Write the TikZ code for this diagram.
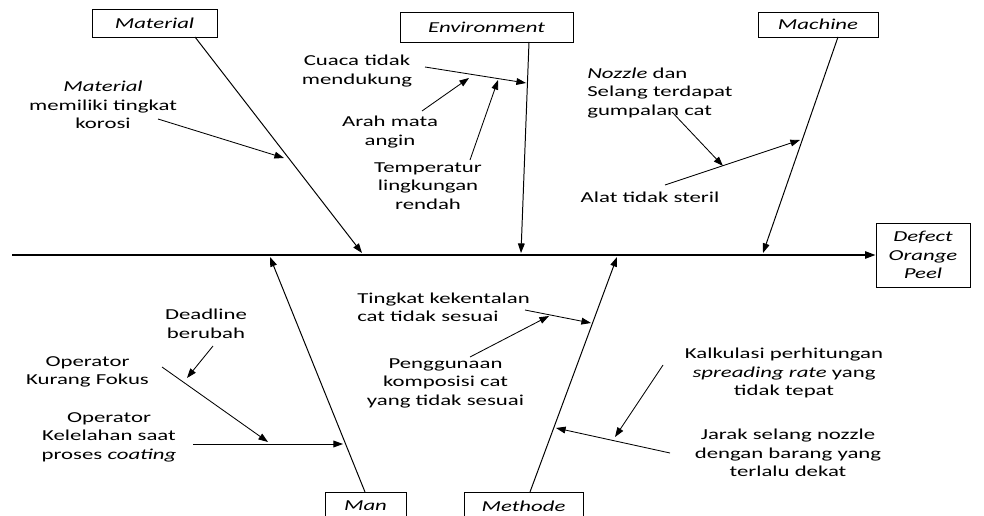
\documentclass[tikz,border=0pt]{standalone}
\usepackage{fontspec}
\setmainfont{Carlito}[FakeStretch=1.5]
\usetikzlibrary{arrows.meta}
\tikzset{
    txt/.style={align=center, inner sep=0pt, font=\fontsize{10.8}{13.2}\selectfont},
    catbox/.style={draw, line width=0.6pt, inner sep=0pt, align=center, font=\fontsize{10.8}{13.2}\selectfont\itshape},
    bone/.style={line width=0.7pt, -{Triangle[length=2.4mm,width=1.7mm]}},
}
\begin{document}
\begin{tikzpicture}[x=0.25mm,y=-0.25mm]
        \clip (0,0) rectangle (984,516);
        %% category boxes
        \node[catbox, minimum width=31.25mm, minimum height=7mm] (material) at (154.5,23) {Material};
        \node[catbox, minimum width=43.25mm, minimum height=7.5mm] (environment) at (486.5,27) {Environment};
        \node[catbox, minimum width=30mm, minimum height=6.25mm] (machine) at (818,24.5) {Machine};
        \node[catbox, minimum width=20.25mm, minimum height=7mm] (man) at (365.5,506) {Man};
        \node[catbox, minimum width=29.75mm, minimum height=7mm] (methode) at (523.5,506) {Methode};
        \node[catbox, minimum width=23.5mm, minimum height=16mm] (defect) at (923,255) {Defect\\Orange\\Peel};
        %% causes
        \node[txt] (korosi) at (103,105) {\textit{Material}\\memiliki tingkat\\korosi};
        \node[txt] (cuaca) at (357,71) {Cuaca tidak\\mendukung};
        \node[txt] (angin) at (390,132) {Arah mata\\angin};
        \node[txt] (suhu) at (428,186) {Temperatur\\lingkungan\\rendah};
        \node[txt, align=left, anchor=west] (gumpal) at (587,93) {\textit{Nozzle} dan\\Selang terdapat\\gumpalan cat};
        \node[txt] (steril) at (650,197) {Alat tidak steril};
        \node[txt] (deadline) at (206,324) {Deadline\\berubah};
        \node[txt] (fokus) at (87.5,372) {Operator\\Kurang Fokus};
        \node[txt] (lelah) at (109,437) {Operator\\Kelelahan saat\\proses \textit{coating}};
        \node[txt, align=left, anchor=west] (kental) at (357,307.5) {Tingkat kekentalan\\cat tidak sesuai};
        \node[txt] (komposisi) at (445.5,383) {Penggunaan\\komposisi cat\\yang tidak sesuai};
        \node[txt] (kalkulasi) at (784,373) {Kalkulasi perhitungan\\\textit{spreading rate} yang\\tidak tepat};
        \node[txt] (jarak) at (788,453) {Jarak selang nozzle\\dengan barang yang\\terlalu dekat};
        %% spine
        \coordinate (tail) at (12,255);
        \draw[line width=1.2pt, -{Triangle[length=2.6mm,width=1.8mm]}] (tail) -- (defect.west);
        %% bones
        \coordinate (matA) at (195,37);   \coordinate (matB) at (362,253);
        \coordinate (envA) at (529,42);   \coordinate (envB) at (521,253);
        \coordinate (macA) at (838,37);   \coordinate (macB) at (763,253);
        \coordinate (manA) at (365,492);  \coordinate (manB) at (270,257);
        \coordinate (metA) at (530,492);  \coordinate (metB) at (617,257);
        \foreach \a/\b in {matA/matB, envA/envB, macA/macB, manA/manB, metA/metB}
            \draw[bone] (\a) -- (\b);
        %% sub causes
        \coordinate (korosiA) at (158,119);   \coordinate (korosiB) at (284,158);
        \coordinate (cuacaA) at (425,67);     \coordinate (cuacaB) at (526,83);
        \coordinate (anginA) at (422,111);    \coordinate (anginB) at (469,78);
        \coordinate (suhuA) at (470,160);     \coordinate (suhuB) at (498,80);
        \coordinate (gumpalA) at (672,112);   \coordinate (gumpalB) at (723,166);
        \coordinate (sterilA) at (665,185);   \coordinate (sterilB) at (800,140);
        \coordinate (deadA) at (213,346);     \coordinate (deadB) at (187,378);
        \coordinate (fokusA) at (162,367);    \coordinate (fokusB) at (268,442);
        \coordinate (lelahA) at (193,444);    \coordinate (lelahB) at (343,444);
        \coordinate (kentalA) at (525,310);   \coordinate (kentalB) at (591,323);
        \coordinate (kompA) at (470,357);     \coordinate (kompB) at (549,316);
        \coordinate (kalkA) at (663,365);     \coordinate (kalkB) at (615,437);
        \coordinate (jarakA) at (670,453);    \coordinate (jarakB) at (556,428);
        \foreach \a/\b in {korosiA/korosiB, cuacaA/cuacaB, anginA/anginB, suhuA/suhuB,
                gumpalA/gumpalB, sterilA/sterilB, deadA/deadB, fokusA/fokusB, lelahA/lelahB,
                kentalA/kentalB, kompA/kompB, kalkA/kalkB, jarakA/jarakB}
            \draw[bone, line width=0.6pt] (\a) -- (\b);
\end{tikzpicture}
\end{document}
